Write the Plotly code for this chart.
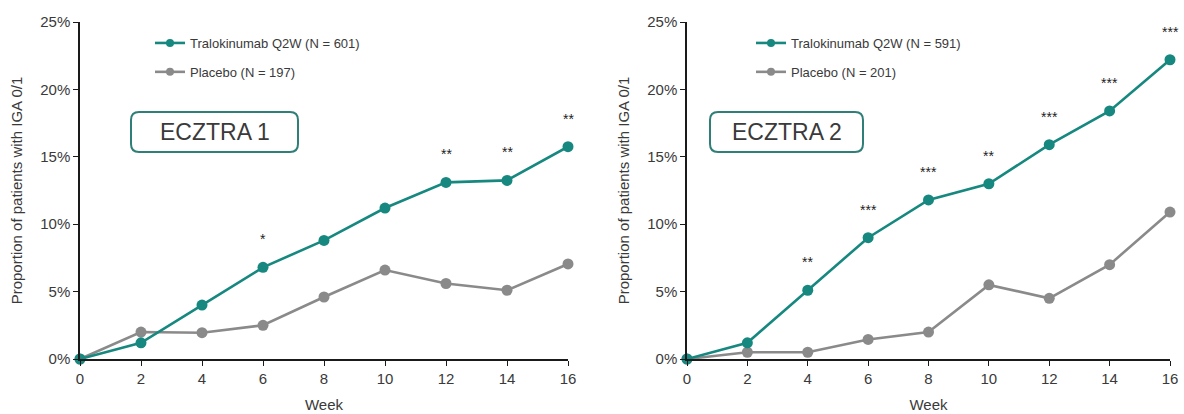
import plotly.graph_objects as go

weeks = [0, 2, 4, 6, 8, 10, 12, 14, 16]
tick_vals_y = [0, 5, 10, 15, 20, 25]
tick_text_y = ["0%", "5%", "10%", "15%", "20%", "25%"]

e1_tral = [0, 1.2, 4.0, 6.8, 8.8, 11.2, 13.1, 13.25, 15.75]
e1_plac = [0, 2.0, 1.95, 2.5, 4.6, 6.6, 5.6, 5.1, 7.05]
e1_stars = ["", "", "", "*", "", "", "**", "**", "**"]

e2_tral = [0, 1.2, 5.1, 9.0, 11.8, 13.0, 15.9, 18.4, 22.2]
e2_plac = [0, 0.5, 0.5, 1.45, 2.0, 5.5, 4.5, 7.0, 10.9]
e2_stars = ["", "", "**", "***", "***", "**", "***", "***", "***"]

e1_names = ["Tralokinumab Q2W (N = 601)", "Placebo (N = 197)"]
e2_names = ["Tralokinumab Q2W (N = 591)", "Placebo (N = 201)"]
titles = ["ECZTRA 1", "ECZTRA 2"]

TEAL = "#16887f"
GRAY = "#8a8a8a"
TXT = "#3a3a3a"
W, H = 1184, 414
FONT = "Liberation Sans"

fig = go.Figure()

def px_x(v):
    return v / W

def px_y(v):
    return 1 - v / H

panels = [
    dict(tral=e1_tral, plac=e1_plac, stars=e1_stars, names=e1_names, xa="x", ya="y", leg="legend",
         box=(131, 112, 298, 152), title=titles[0]),
    dict(tral=e2_tral, plac=e2_plac, stars=e2_stars, names=e2_names, xa="x2", ya="y2", leg="legend2",
         box=(710, 112, 863, 152), title=titles[1]),
]

annotations = []
shapes = []
for i, p in enumerate(panels):
    for vals, color, name in ((p["plac"], GRAY, p["names"][1]),
                              (p["tral"], TEAL, p["names"][0])):
        fig.add_trace(go.Scatter(x=weeks, y=vals, name=name, mode="lines+markers",
                                 line=dict(color=color, width=2.6), marker=dict(size=11, color=color),
                                 xaxis=p["xa"], yaxis=p["ya"], showlegend=False, cliponaxis=False))
    for vals, color, name, grp in ((p["tral"], TEAL, p["names"][0], f"t{i}"),
                                   (p["plac"], GRAY, p["names"][1], f"p{i}")):
        fig.add_trace(go.Scatter(x=[None], y=[None], name=name, mode="lines+markers",
                                 line=dict(color=color, width=2.6), marker=dict(size=8, color=color),
                                 xaxis=p["xa"], yaxis=p["ya"], legend=p["leg"], legendgroup=grp,
                                 showlegend=True))
    for w, v, s in zip(weeks, p["tral"], p["stars"]):
        if s:
            annotations.append(dict(x=w, y=v, xref=p["xa"], yref=p["ya"], text=s, showarrow=False,
                                    xanchor="center", yanchor="middle",
                                    yshift=28, font=dict(size=14, color="#222", family=FONT)))
    x0, y0, x1, y1 = p["box"]
    r = 8
    path = (f"M {px_x(x0 + r)} {px_y(y0)} L {px_x(x1 - r)} {px_y(y0)} "
            f"Q {px_x(x1)} {px_y(y0)} {px_x(x1)} {px_y(y0 + r)} "
            f"L {px_x(x1)} {px_y(y1 - r)} Q {px_x(x1)} {px_y(y1)} {px_x(x1 - r)} {px_y(y1)} "
            f"L {px_x(x0 + r)} {px_y(y1)} Q {px_x(x0)} {px_y(y1)} {px_x(x0)} {px_y(y1 - r)} "
            f"L {px_x(x0)} {px_y(y0 + r)} Q {px_x(x0)} {px_y(y0)} {px_x(x0 + r)} {px_y(y0)} Z")
    shapes.append(dict(type="path", path=path, xref="paper", yref="paper",
                       line=dict(color="#2f7f78", width=2), fillcolor="white", layer="below"))
    annotations.append(dict(x=px_x((x0 + x1) / 2), y=px_y((y0 + y1) / 2), xref="paper", yref="paper",
                            xanchor="center", yanchor="middle",
                            text=p["title"], showarrow=False, font=dict(size=23, color=TXT, family=FONT)))

axis_common = dict(showline=True, linecolor="#1a1a1a", linewidth=1.5, ticks="outside", ticklen=5,
                   tickcolor="#1a1a1a", showgrid=False, zeroline=False, automargin=False,
                   tickfont=dict(size=15, color=TXT, family=FONT))

ytop, ybot = px_y(22), px_y(359)
fig.update_layout(
    width=W, height=H, margin=dict(l=0, r=0, t=0, b=0, autoexpand=False),
    plot_bgcolor="white", paper_bgcolor="white",
    font=dict(family=FONT, color=TXT),
    xaxis=dict(domain=[px_x(80), px_x(568)], range=[0, 16], tickvals=weeks, anchor="y",
               title=dict(text="Week", font=dict(size=15, color=TXT), standoff=14), **axis_common),
    yaxis=dict(domain=[ybot, ytop], range=[0, 25], tickvals=tick_vals_y, ticktext=tick_text_y, anchor="x",
               title=dict(text="Proportion of patients with IGA 0/1", font=dict(size=15, color=TXT), standoff=14),
               **axis_common),
    xaxis2=dict(domain=[px_x(687), px_x(1170)], range=[0, 16], tickvals=weeks, anchor="y2",
                title=dict(text="Week", font=dict(size=15, color=TXT), standoff=14), **axis_common),
    yaxis2=dict(domain=[ybot, ytop], range=[0, 25], tickvals=tick_vals_y, ticktext=tick_text_y, anchor="x2",
                title=dict(text="Proportion of patients with IGA 0/1", font=dict(size=15, color=TXT), standoff=14),
                **axis_common),
    legend=dict(x=px_x(150), y=px_y(28), xanchor="left", yanchor="top", bgcolor="rgba(0,0,0,0)",
                font=dict(size=13, color=TXT, family=FONT), tracegroupgap=9),
    legend2=dict(x=px_x(751), y=px_y(28), xanchor="left", yanchor="top", bgcolor="rgba(0,0,0,0)",
                 font=dict(size=13, color=TXT, family=FONT), tracegroupgap=9),
    annotations=annotations, shapes=shapes, showlegend=True,
)

fig.write_html("out.html", config={"displayModeBar": False},
               post_script="document.body.style.margin='0';")
